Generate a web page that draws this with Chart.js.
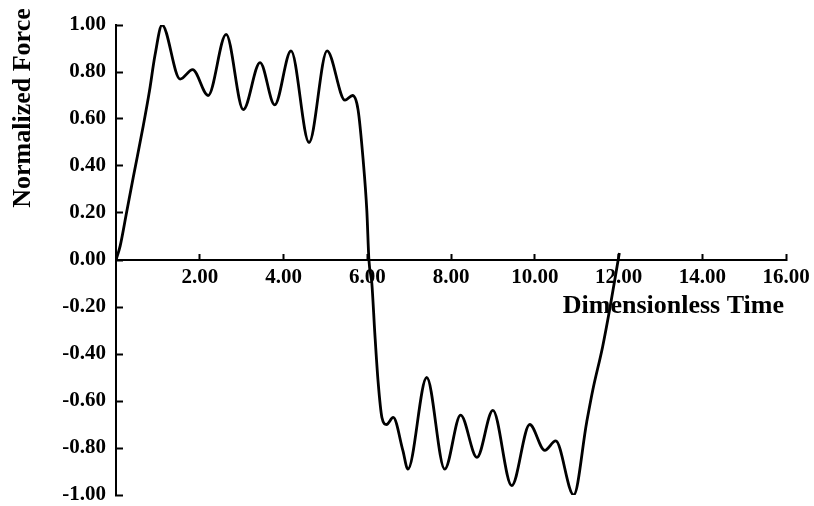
<!DOCTYPE html>
<html>
<head>
<meta charset="utf-8">
<script src="https://cdn.jsdelivr.net/npm/chart.js@4.4.0/dist/chart.umd.min.js"></script>
<style>
  html, body { margin: 0; padding: 0; background: white; }
  #wrap { width: 814px; height: 506px; }
</style>
</head>
<body>
<div id="wrap"><canvas id="myChart" width="814" height="506"></canvas></div>
<script>
// Dimensionless time values (x)
var times = [0, 0.1, 0.25, 0.41, 0.65, 0.8, 0.93, 1.10, 1.53, 1.83, 2.2, 2.63, 3.04, 3.44, 3.79, 4.18, 4.61, 5.04, 5.47, 5.65, 5.78, 5.9, 5.99, 6.04,
             6.11, 6.18, 6.26, 6.35, 6.46, 6.62, 6.85, 6.97, 7.42, 7.85, 8.23, 8.62, 9.0, 9.45, 9.88, 10.24, 10.5, 10.93, 11.24, 11.39, 11.62, 11.79, 12.02]

// Normalized force values (y)
var forces = [0, 0.06, 0.2, 0.35, 0.57, 0.72, 0.87, 1.0, 0.77, 0.81, 0.70, 0.96, 0.64, 0.84, 0.66, 0.89, 0.50, 0.89, 0.68, 0.70, 0.64, 0.43, 0.21, 0,
              -0.10, -0.31, -0.52, -0.67, -0.70, -0.67, -0.81, -0.89, -0.50, -0.89, -0.66, -0.84, -0.64, -0.96, -0.70, -0.81, -0.77, -1.00, -0.69, -0.55, -0.37, -0.21, 0.03]

// Axis settings
var xMin = 0, xMax = 16, xStep = 2
var yMin = -1, yMax = 1, yStep = 0.2
var xTitle = 'Dimensionless Time'
var yTitle = 'Normalized Force'

// Formatting
var fontFamily = "'Liberation Serif', 'Times New Roman', serif"
var tickSize = 21
var titleSize = 26
var inkColor = 'black'

function fmt(v) {
    if (Math.abs(v) < 1e-9) v = 0
    return v.toFixed(2)
}

// Draws the axis titles where the original figure has them
var axisTitles = {
    id: 'axisTitles',
    afterDraw: function(chart) {
        var ctx = chart.ctx
        var xs = chart.scales.x
        var ys = chart.scales.y
        ctx.save()
        ctx.fillStyle = inkColor
        ctx.font = 'bold ' + titleSize + 'px ' + fontFamily

        ctx.textAlign = 'right'
        ctx.textBaseline = 'alphabetic'
        ctx.fillText(xTitle, xs.right - 2, ys.getPixelForValue(0) + 53)

        ctx.translate(23, ys.top + 83)
        ctx.rotate(-Math.PI / 2)
        ctx.textAlign = 'center'
        ctx.textBaseline = 'middle'
        ctx.fillText(yTitle, 0, 0)
        ctx.restore()
    }
}

var points = times.map(function(t, i) { return {x: t, y: forces[i]} })

const ctx = document.getElementById('myChart').getContext('2d')
const config = {
    type: 'line',
    data: {
        datasets: [{
            data: points,
            borderColor: inkColor,
            borderWidth: 2.8,
            pointRadius: 0,
            fill: false,
            cubicInterpolationMode: 'monotone'
        }]
    },
    options: {
        responsive: false,
        animation: false,
        layout: {
            padding: { left: 0, top: 25, right: 28, bottom: 11 }
        },
        plugins: {
            legend: { display: false },
            tooltip: { enabled: false }
        },
        scales: {
            x: {
                type: 'linear',
                position: { y: 0 },
                min: xMin,
                max: xMax,
                afterFit: function(scale) {
                    scale.height = 0
                    scale.paddingLeft = 0
                    scale.paddingRight = 0
                },
                afterBuildTicks: function(scale) {
                    var ticks = []
                    for (var v = xMin; v <= xMax + 1e-9; v += xStep) ticks.push({value: v})
                    scale.ticks = ticks
                },
                border: { display: true, color: inkColor, width: 2 },
                grid: {
                    drawOnChartArea: false,
                    drawTicks: true,
                    tickLength: -7,
                    tickWidth: 2,
                    tickColor: inkColor
                },
                ticks: {
                    padding: 14,
                    maxRotation: 0,
                    autoSkip: false,
                    color: inkColor,
                    font: { family: fontFamily, size: tickSize, weight: 'bold', lineHeight: 1 },
                    callback: function(value) { return value === 0 ? '' : fmt(value) }
                }
            },
            y: {
                type: 'linear',
                position: 'left',
                min: yMin,
                max: yMax,
                afterFit: function(scale) {
                    scale.width = 116
                    scale.paddingTop = 0
                    scale.paddingBottom = 0
                },
                afterBuildTicks: function(scale) {
                    var ticks = []
                    for (var i = 0; i <= Math.round((yMax - yMin) / yStep); i++) ticks.push({value: yMin + i * yStep})
                    scale.ticks = ticks
                },
                border: { display: true, color: inkColor, width: 2 },
                grid: {
                    drawOnChartArea: false,
                    drawTicks: true,
                    tickLength: -7,
                    tickWidth: 2,
                    tickColor: inkColor
                },
                ticks: {
                    padding: 17,
                    autoSkip: false,
                    color: inkColor,
                    font: { family: fontFamily, size: tickSize, weight: 'bold', lineHeight: 1 },
                    callback: function(value) { return fmt(value) }
                }
            }
        }
    },
    plugins: [axisTitles]
}

const myChart = new Chart(ctx, config)
</script>
</body>
</html>
